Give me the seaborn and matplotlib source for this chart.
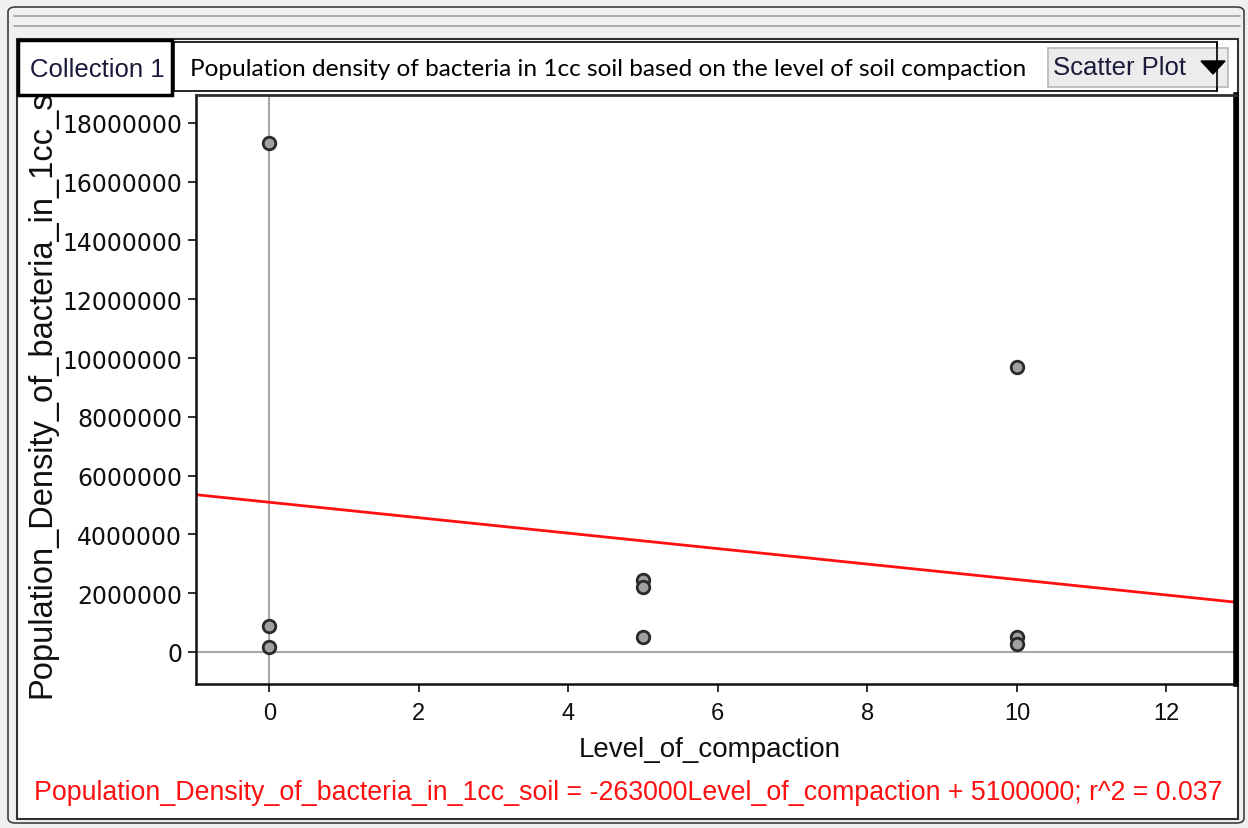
import numpy as np
import pandas as pd
import matplotlib
matplotlib.use("Agg")
import matplotlib.pyplot as plt
from matplotlib.patches import Rectangle, FancyBboxPatch, Polygon
from matplotlib.lines import Line2D
from matplotlib.transforms import Bbox
import seaborn as sns

# datos
compaction = [0, 0, 0, 5, 5, 5, 10, 10, 10]
density = [17300000, 900000, 170000, 2450000, 2200000, 510000, 9700000, 520000, 260000]
y_ticks = [0, 2000000, 4000000, 6000000, 8000000, 10000000, 12000000, 14000000, 16000000, 18000000]
x_ticks = [0, 2, 4, 6, 8, 10, 12]

title = "Population density of bacteria in 1cc soil based on the level of soil compaction"
x_name = "Level_of_compaction"
y_name = "Population_Density_of_bacteria_in_1cc_soil"
equation = "Population_Density_of_bacteria_in_1cc_soil = -263000Level_of_compaction + 5100000; r^2 = 0.037"

df = pd.DataFrame({x_name: compaction, y_name: density})

W, H = 1248, 829
sns.set_style("white")
plt.rcParams["font.family"] = ["Liberation Sans", "DejaVu Sans"]

fig = plt.figure(figsize=(W / 100, H / 100), dpi=100, facecolor="#f0f0f0")


def fx(x):
    return x / W


def fy(y):
    return 1 - y / H


def rect(x0, y0, x1, y1, **kw):
    r = Rectangle((fx(x0), fy(y1)), fx(x1) - fx(x0), fy(y0) - fy(y1),
                  transform=fig.transFigure, **kw)
    fig.add_artist(r)
    return r


def hline(x0, x1, y, **kw):
    fig.add_artist(Line2D([fx(x0), fx(x1)], [fy(y), fy(y)], transform=fig.transFigure, **kw))


# marco de la ventana
fig.add_artist(FancyBboxPatch((fx(8), fy(824)), fx(1244) - fx(8), fy(8) - fy(824),
                              boxstyle="round,pad=0,rounding_size=0.006",
                              transform=fig.transFigure, fc="#f0f0f0", ec="#404040", lw=1.2, zorder=0.1))
hline(14, 1240, 17, color="#a0a0a0", lw=1.2, zorder=0.2)
hline(14, 1240, 27, color="#a0a0a0", lw=1.2, zorder=0.2)
rect(17, 40, 1238, 820, fc="white", ec="#303030", lw=1.5, zorder=0.3)

# ejes
ax = fig.add_axes([fx(196), fy(685), fx(1236) - fx(196), fy(96) - fy(685)])
ax.set_zorder(1)
ax.set_xlim(-0.98, 12.93)
ax.set_ylim(-1090000, 18950000)

ax.axvline(0, color="#a8a8a8", lw=1.5, zorder=1)
ax.axhline(0, color="#a8a8a8", lw=1.5, zorder=1)

sns.regplot(data=df, x=x_name, y=y_name, ax=ax, scatter=False, ci=None, truncate=False,
            line_kws={"color": "#ff1010", "lw": 2, "zorder": 2})
sns.scatterplot(data=df, x=x_name, y=y_name, ax=ax, s=82, color="#a0a0a0",
                edgecolor="#2a2a2a", linewidth=2, zorder=3)

ax.set_xlim(-0.98, 12.93)
ax.set_ylim(-1090000, 18950000)
ax.set_xticks(x_ticks)
ax.set_yticks(y_ticks)
ax.set_xticklabels([str(t) for t in x_ticks], fontsize=17, color="#101010")
ax.set_yticklabels([str(t) for t in y_ticks], family=["DejaVu Sans"], fontsize=17, color="#101010")
ax.tick_params(axis="both", direction="out", length=6, width=1.3, color="#202020",
               bottom=True, left=True)
ax.tick_params(axis="x", pad=7)
ax.tick_params(axis="y", pad=4)
ax.set_xlabel("")
ax.set_ylabel("")
for s in ["left", "bottom"]:
    ax.spines[s].set_color("#101010")
    ax.spines[s].set_linewidth(1.8)
ax.spines["top"].set_color("#303030")
ax.spines["top"].set_linewidth(2)
ax.spines["right"].set_color("black")
ax.spines["right"].set_linewidth(4)

fig.text(fx(710), fy(750), x_name, ha="center", va="center", fontsize=20, color="#101010")
# la etiqueta del eje y queda cortada por la pestaña "Collection 1"
ylab = fig.text(fx(42), fy(698), y_name, ha="center", va="bottom", rotation=90, fontsize=23.5,
                color="#101010", zorder=2)
ylab.set_clip_box(Bbox([[0, 0], [W, H - 97]]))
ylab.set_clip_on(True)
fig.text(fx(628), fy(793), equation, ha="center", va="center", fontsize=19.3, color="#ff1010")

# cabecera
rect(18, 41, 172, 96, fc="white", ec="black", lw=2.5, zorder=5)
fig.text(fx(97), fy(70), "Collection 1", ha="center", va="center", fontsize=18.5,
         color="#1a1a3a", zorder=6)
rect(174, 43, 1217, 92, fc="white", ec="black", lw=1.2, zorder=5)
fig.text(fx(190), fy(70), title, ha="left", va="center", fontsize=17.6,
         family=["Lato", "DejaVu Sans"], color="black", zorder=6)
rect(1048, 49, 1228, 88, fc="#ececec", ec="#b8b8b8", lw=1.2, zorder=7)
fig.text(fx(1053), fy(68), "Scatter Plot", ha="left", va="center", fontsize=18.5,
         color="#1a1a3a", zorder=8)
fig.add_artist(Polygon([[fx(1201), fy(62)], [fx(1225), fy(62)], [fx(1213), fy(75)]],
                       closed=True, transform=fig.transFigure, fc="black", ec="black", zorder=8))
fig.add_artist(Line2D([fx(1217), fx(1217)], [fy(43), fy(92)], transform=fig.transFigure,
                      color="black", lw=1.2, zorder=9))

fig.savefig("out.png", dpi=100, facecolor=fig.get_facecolor())
